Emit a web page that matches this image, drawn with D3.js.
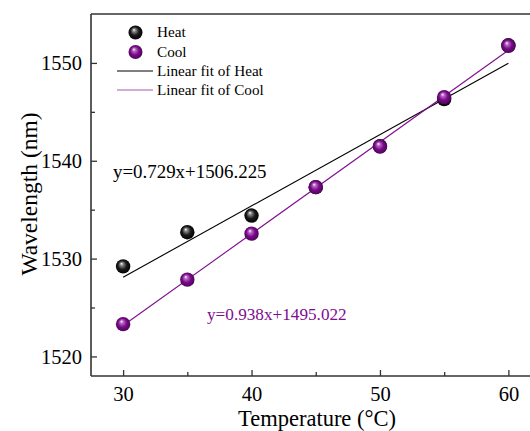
<!DOCTYPE html>
<html><head><meta charset="utf-8">
<script src="https://cdn.jsdelivr.net/npm/d3@7"></script>
<style>body{margin:0;background:#fff}svg{display:block}svg text{font-family:'Liberation Serif','Times New Roman',serif !important}</style>
</head><body><svg id="c" width="530" height="431" font-family="Liberation Serif"></svg>
<script>
const temps = [30, 35, 40, 45, 50, 55, 60];
const heat = [1529.2, 1532.7, 1534.4, 1537.3, 1541.5, 1546.3, 1551.8];
const cool = [1523.3, 1527.85, 1532.55, 1537.3, 1541.45, 1546.5, 1551.75];
const heatFit = {slope: 0.729, intercept: 1506.225, label: "y=0.729x+1506.225"};
const coolFit = {slope: 0.938, intercept: 1495.022, label: "y=0.938x+1495.022"};
const xTicks = [30, 40, 50, 60];
const yTicks = [1520, 1530, 1540, 1550];
const legendLabels = ["Heat", "Cool", "Linear fit of Heat", "Linear fit of Cool"];

const svg = d3.select("#c");
const L = 91, T = 14, B = 376;
const x = d3.scaleLinear().domain([27.5, 62.5]).range([L, 540.5]);
const y = d3.scaleLinear().domain([1518, 1555]).range([B, T]);
const axisColor = "#333";
const purple = "#800c8f";
const serif = "'Liberation Serif', 'Times New Roman', serif";

const defs = svg.append("defs");
function grad(id, light, mid, dark) {
  const g = defs.append("radialGradient").attr("id", id).attr("cx", "50%").attr("cy", "50%").attr("r", "55%").attr("fx", "38%").attr("fy", "30%");
  g.append("stop").attr("offset", "0%").attr("stop-color", "#fff");
  g.append("stop").attr("offset", "20%").attr("stop-color", light);
  g.append("stop").attr("offset", "55%").attr("stop-color", mid);
  g.append("stop").attr("offset", "100%").attr("stop-color", dark);
}
grad("gHeat", "#888", "#1a1a1a", "#000");
grad("gCool", "#b86cc4", "#7a0a8a", "#45044f");

// axes
const xAxis = d3.axisBottom(x).tickValues(d3.range(30, 61, 5)).tickSize(-6).tickFormat(d => xTicks.includes(d) ? d : "").tickSizeOuter(0);
const gx = svg.append("g").attr("transform", `translate(0,${B})`).call(xAxis);
gx.selectAll(".tick line").attr("y2", d => xTicks.includes(d) ? -6 : -4);
const yAxis = d3.axisLeft(y).tickValues(d3.range(1520, 1551, 5)).tickSize(-6).tickFormat(d => yTicks.includes(d) ? d : "").tickSizeOuter(0);
const gy = svg.append("g").attr("transform", `translate(${L},0)`).call(yAxis);
gy.selectAll(".tick line").attr("x2", d => yTicks.includes(d) ? 6 : 4);
[gx, gy].forEach(g => {
  g.attr("font-family", serif).attr("font-size", 20.5);
  g.select(".domain").attr("stroke", axisColor).attr("stroke-width", 1.6);
  g.selectAll(".tick line").attr("stroke", axisColor).attr("stroke-width", 1.3);
  g.selectAll("text").attr("font-size", 20.5).attr("fill", "#000").attr("font-family", serif);
});
gx.selectAll("text").attr("y", 25).attr("dy", 0);
gy.selectAll("text").attr("x", -9).attr("dy", "0.34em");
gx.select(".domain").attr("d", `M${L},0H530`);
gy.select(".domain").attr("d", `M0,${B}V${T}`);
svg.append("line").attr("x1", L).attr("x2", 530).attr("y1", T).attr("y2", T).attr("stroke", axisColor).attr("stroke-width", 1.6);

// fit lines
function fitLine(f, color) {
  svg.append("line").attr("x1", x(30)).attr("x2", x(60))
    .attr("y1", y(f.slope * 30 + f.intercept)).attr("y2", y(f.slope * 60 + f.intercept))
    .attr("stroke", color).attr("stroke-width", 1.1);
}
fitLine(heatFit, "#000");
fitLine(coolFit, purple);

// points
svg.append("g").selectAll("circle").data(temps).join("circle")
  .attr("cx", (d) => x(d)).attr("cy", (d, i) => y(heat[i])).attr("r", 7.2).attr("fill", "url(#gHeat)");
svg.append("g").selectAll("circle").data(temps).join("circle")
  .attr("cx", (d) => x(d)).attr("cy", (d, i) => y(cool[i])).attr("r", 7.2).attr("fill", "url(#gCool)");

// equations
svg.append("text").attr("x", 113).attr("y", 178).attr("font-size", 18.9).attr("font-family", serif).attr("fill", "#000").text(heatFit.label);
svg.append("text").attr("x", 207).attr("y", 320).attr("font-size", 17.2).attr("font-family", serif).attr("fill", purple).text(coolFit.label);

// legend
const lg = svg.append("g").attr("font-family", serif);
lg.append("circle").attr("cx", 135.5).attr("cy", 32.5).attr("r", 7).attr("fill", "url(#gHeat)");
lg.append("circle").attr("cx", 135.5).attr("cy", 52).attr("r", 7).attr("fill", "url(#gCool)");
lg.append("line").attr("x1", 117).attr("x2", 153).attr("y1", 71).attr("y2", 71).attr("stroke", "#000").attr("stroke-width", 1);
lg.append("line").attr("x1", 117).attr("x2", 153).attr("y1", 90).attr("y2", 90).attr("stroke", "#a45ab0").attr("stroke-width", 1.2);
[32, 52, 71, 90].forEach((yy, i) => {
  lg.append("text").attr("x", 157).attr("y", yy).attr("dy", "0.35em").attr("font-size", 15.2).attr("fill", "#000").text(legendLabels[i]);
});

// axis titles
svg.append("text").attr("x", 317).attr("y", 425.5).attr("text-anchor", "middle").attr("font-size", 22.5).attr("font-family", serif).attr("fill", "#000").text("Temperature (°C)");
svg.append("text").attr("transform", "translate(37,194) rotate(-90)").attr("text-anchor", "middle").attr("font-size", 23.5).attr("font-family", serif).attr("fill", "#000").text("Wavelength (nm)");
</script></body></html>
